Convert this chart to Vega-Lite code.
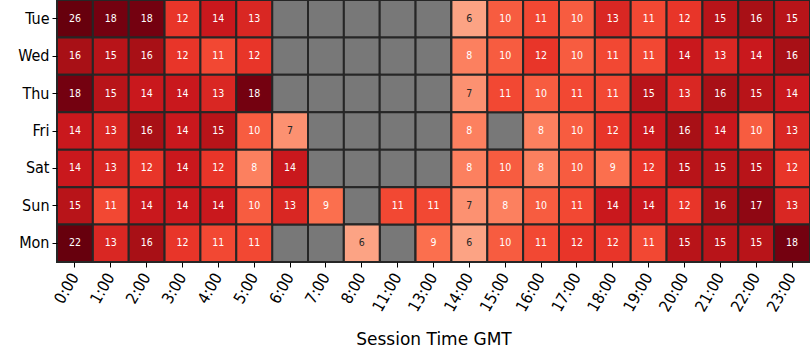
{
  "$schema": "https://vega.github.io/schema/vega-lite/v6.json",
  "width": 753,
  "height": 262,
  "autosize": "none",
  "padding": {"left": 57, "top": 0, "right": 0, "bottom": 98},
  "background": "white",
  "config": {"view": {"stroke": null}, "font": "DejaVu Sans"},
  "data": {"values": [
    {"d":"Tue","h":"0:00","v":26},{"d":"Tue","h":"1:00","v":18},{"d":"Tue","h":"2:00","v":18},{"d":"Tue","h":"3:00","v":12},{"d":"Tue","h":"4:00","v":14},{"d":"Tue","h":"5:00","v":13},{"d":"Tue","h":"6:00","v":null},{"d":"Tue","h":"7:00","v":null},{"d":"Tue","h":"8:00","v":null},{"d":"Tue","h":"11:00","v":null},{"d":"Tue","h":"13:00","v":null},{"d":"Tue","h":"14:00","v":6},{"d":"Tue","h":"15:00","v":10},{"d":"Tue","h":"16:00","v":11},{"d":"Tue","h":"17:00","v":10},{"d":"Tue","h":"18:00","v":13},{"d":"Tue","h":"19:00","v":11},{"d":"Tue","h":"20:00","v":12},{"d":"Tue","h":"21:00","v":15},{"d":"Tue","h":"22:00","v":16},{"d":"Tue","h":"23:00","v":15},
    {"d":"Wed","h":"0:00","v":16},{"d":"Wed","h":"1:00","v":15},{"d":"Wed","h":"2:00","v":16},{"d":"Wed","h":"3:00","v":12},{"d":"Wed","h":"4:00","v":11},{"d":"Wed","h":"5:00","v":12},{"d":"Wed","h":"6:00","v":null},{"d":"Wed","h":"7:00","v":null},{"d":"Wed","h":"8:00","v":null},{"d":"Wed","h":"11:00","v":null},{"d":"Wed","h":"13:00","v":null},{"d":"Wed","h":"14:00","v":8},{"d":"Wed","h":"15:00","v":10},{"d":"Wed","h":"16:00","v":12},{"d":"Wed","h":"17:00","v":10},{"d":"Wed","h":"18:00","v":11},{"d":"Wed","h":"19:00","v":11},{"d":"Wed","h":"20:00","v":14},{"d":"Wed","h":"21:00","v":13},{"d":"Wed","h":"22:00","v":14},{"d":"Wed","h":"23:00","v":16},
    {"d":"Thu","h":"0:00","v":18},{"d":"Thu","h":"1:00","v":15},{"d":"Thu","h":"2:00","v":14},{"d":"Thu","h":"3:00","v":14},{"d":"Thu","h":"4:00","v":13},{"d":"Thu","h":"5:00","v":18},{"d":"Thu","h":"6:00","v":null},{"d":"Thu","h":"7:00","v":null},{"d":"Thu","h":"8:00","v":null},{"d":"Thu","h":"11:00","v":null},{"d":"Thu","h":"13:00","v":null},{"d":"Thu","h":"14:00","v":7},{"d":"Thu","h":"15:00","v":11},{"d":"Thu","h":"16:00","v":10},{"d":"Thu","h":"17:00","v":11},{"d":"Thu","h":"18:00","v":11},{"d":"Thu","h":"19:00","v":15},{"d":"Thu","h":"20:00","v":13},{"d":"Thu","h":"21:00","v":16},{"d":"Thu","h":"22:00","v":15},{"d":"Thu","h":"23:00","v":14},
    {"d":"Fri","h":"0:00","v":14},{"d":"Fri","h":"1:00","v":13},{"d":"Fri","h":"2:00","v":16},{"d":"Fri","h":"3:00","v":14},{"d":"Fri","h":"4:00","v":15},{"d":"Fri","h":"5:00","v":10},{"d":"Fri","h":"6:00","v":7},{"d":"Fri","h":"7:00","v":null},{"d":"Fri","h":"8:00","v":null},{"d":"Fri","h":"11:00","v":null},{"d":"Fri","h":"13:00","v":null},{"d":"Fri","h":"14:00","v":8},{"d":"Fri","h":"15:00","v":null},{"d":"Fri","h":"16:00","v":8},{"d":"Fri","h":"17:00","v":10},{"d":"Fri","h":"18:00","v":12},{"d":"Fri","h":"19:00","v":14},{"d":"Fri","h":"20:00","v":16},{"d":"Fri","h":"21:00","v":14},{"d":"Fri","h":"22:00","v":10},{"d":"Fri","h":"23:00","v":13},
    {"d":"Sat","h":"0:00","v":14},{"d":"Sat","h":"1:00","v":13},{"d":"Sat","h":"2:00","v":12},{"d":"Sat","h":"3:00","v":14},{"d":"Sat","h":"4:00","v":12},{"d":"Sat","h":"5:00","v":8},{"d":"Sat","h":"6:00","v":14},{"d":"Sat","h":"7:00","v":null},{"d":"Sat","h":"8:00","v":null},{"d":"Sat","h":"11:00","v":null},{"d":"Sat","h":"13:00","v":null},{"d":"Sat","h":"14:00","v":8},{"d":"Sat","h":"15:00","v":10},{"d":"Sat","h":"16:00","v":8},{"d":"Sat","h":"17:00","v":10},{"d":"Sat","h":"18:00","v":9},{"d":"Sat","h":"19:00","v":12},{"d":"Sat","h":"20:00","v":15},{"d":"Sat","h":"21:00","v":15},{"d":"Sat","h":"22:00","v":15},{"d":"Sat","h":"23:00","v":12},
    {"d":"Sun","h":"0:00","v":15},{"d":"Sun","h":"1:00","v":11},{"d":"Sun","h":"2:00","v":14},{"d":"Sun","h":"3:00","v":14},{"d":"Sun","h":"4:00","v":14},{"d":"Sun","h":"5:00","v":10},{"d":"Sun","h":"6:00","v":13},{"d":"Sun","h":"7:00","v":9},{"d":"Sun","h":"8:00","v":null},{"d":"Sun","h":"11:00","v":11},{"d":"Sun","h":"13:00","v":11},{"d":"Sun","h":"14:00","v":7},{"d":"Sun","h":"15:00","v":8},{"d":"Sun","h":"16:00","v":10},{"d":"Sun","h":"17:00","v":11},{"d":"Sun","h":"18:00","v":14},{"d":"Sun","h":"19:00","v":14},{"d":"Sun","h":"20:00","v":12},{"d":"Sun","h":"21:00","v":16},{"d":"Sun","h":"22:00","v":17},{"d":"Sun","h":"23:00","v":13},
    {"d":"Mon","h":"0:00","v":22},{"d":"Mon","h":"1:00","v":13},{"d":"Mon","h":"2:00","v":16},{"d":"Mon","h":"3:00","v":12},{"d":"Mon","h":"4:00","v":11},{"d":"Mon","h":"5:00","v":11},{"d":"Mon","h":"6:00","v":null},{"d":"Mon","h":"7:00","v":null},{"d":"Mon","h":"8:00","v":6},{"d":"Mon","h":"11:00","v":null},{"d":"Mon","h":"13:00","v":9},{"d":"Mon","h":"14:00","v":6},{"d":"Mon","h":"15:00","v":10},{"d":"Mon","h":"16:00","v":11},{"d":"Mon","h":"17:00","v":12},{"d":"Mon","h":"18:00","v":12},{"d":"Mon","h":"19:00","v":11},{"d":"Mon","h":"20:00","v":15},{"d":"Mon","h":"21:00","v":15},{"d":"Mon","h":"22:00","v":15},{"d":"Mon","h":"23:00","v":18}
  ]},
  "encoding": {
    "x": {"field": "h", "type": "ordinal",
      "sort": ["0:00","1:00","2:00","3:00","4:00","5:00","6:00","7:00","8:00","11:00","13:00","14:00","15:00","16:00","17:00","18:00","19:00","20:00","21:00","22:00","23:00"],
      "scale": {"paddingInner": 0, "paddingOuter": 0},
      "axis": {"title": "Session Time GMT", "titleFont": "DejaVu Sans", "titleFontSize": 17, "titleFontWeight": "normal", "titleColor": "#000", "titlePadding": 18,
        "labelAngle": -60, "labelFont": "DejaVu Sans Condensed, DejaVu Sans", "labelFontSize": 16, "labelColor": "#000", "labelPadding": 7,
        "domain": false, "ticks": true, "tickSize": 5, "tickColor": "#000", "grid": false}},
    "y": {"field": "d", "type": "ordinal",
      "sort": ["Tue","Wed","Thu","Fri","Sat","Sun","Mon"],
      "scale": {"paddingInner": 0, "paddingOuter": 0},
      "axis": {"title": null, "labelFont": "DejaVu Sans Condensed, DejaVu Sans", "labelFontSize": 16, "labelColor": "#000", "labelPadding": 3,
        "domain": false, "ticks": true, "tickSize": 5, "tickColor": "#000", "grid": false}}
  },
  "layer": [
    {"mark": {"type": "rect", "fill": "#787878", "stroke": "#262626", "strokeWidth": 2}},
    {"transform": [{"filter": "datum.v != null"}],
     "mark": {"type": "rect", "stroke": "#262626", "strokeWidth": 2},
     "encoding": {"color": {"field": "v", "type": "quantitative", "legend": null,
       "scale": {"type": "linear", "clamp": true,
         "domain": [0, 2.3125, 4.625, 6.9375, 9.25, 11.5625, 13.875, 16.1875, 18.5],
         "range": ["#fff5f0","#fee0d2","#fcbba1","#fc9272","#fb6a4a","#ef3b2c","#cb181d","#a50f15","#67000d"]}}}},
    {"transform": [{"filter": "datum.v != null"}],
     "mark": {"type": "text", "font": "DejaVu Sans Condensed, DejaVu Sans", "fontSize": 10.5},
     "encoding": {"text": {"field": "v", "type": "quantitative"},
       "color": {"condition": {"test": "datum.v < 7.5", "value": "#262626"}, "value": "#ffffff"}}}
  ]
}
